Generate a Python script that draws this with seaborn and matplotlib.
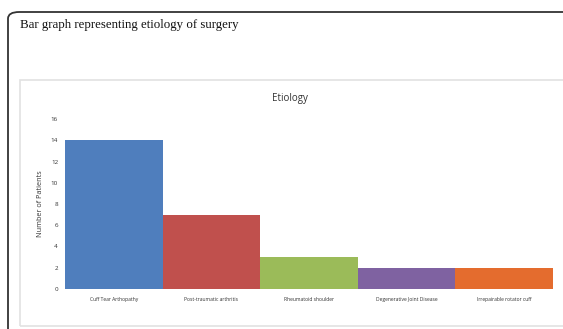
import matplotlib
matplotlib.use("Agg")
import matplotlib.pyplot as plt
from matplotlib.patches import Rectangle, FancyBboxPatch
import seaborn as sns
import pandas as pd

categories = ["Cuff Tear Arthopathy", "Post-traumatic arthritis", "Rheumatoid shoulder",
              "Degenerative Joint Disease", "Irrepairable rotator cuff"]
patients = [14, 7, 3, 2, 2]
colors = ["#4F7EBD", "#C0504D", "#9BBB59", "#7F62A1", "#E46C2E"]
yticks = [0, 2, 4, 6, 8, 10, 12, 14, 16]

sns.set_theme(style="white")
plt.rcParams['font.family'] = ['Open Sans', 'DejaVu Sans']

W, H = 563, 329
fig = plt.figure(figsize=(W / 100, H / 100), dpi=100)

def fx(px):
    return px / W

def fy(py):
    return 1 - py / H

# outer rounded panel border
outer = FancyBboxPatch((fx(8), fy(340)), fx(600), fy(12) - fy(340),
                       boxstyle="round,pad=0,rounding_size=0.02",
                       transform=fig.transFigure, fill=False,
                       edgecolor="#333333", linewidth=1.3)
fig.patches.append(outer)

# inner chart box
inner = Rectangle((fx(20), fy(326)), fx(600), fy(80) - fy(326),
                  transform=fig.transFigure, fill=False,
                  edgecolor="#e2e2e2", linewidth=1.2)
fig.patches.append(inner)

fig.text(fx(20), fy(25), "Bar graph representing etiology of surgery",
         family="Liberation Serif", fontsize=9.3, color="#111111",
         ha="left", va="center")
fig.text(fx(290), fy(98), "Etiology", fontsize=7, color="#333333",
         ha="center", va="center")

ax = fig.add_axes([fx(65), fy(289), fx(553) - fx(65), fy(119) - fy(289)])
df = pd.DataFrame({"cat": categories, "n": patients})
sns.barplot(data=df, x="cat", y="n", hue="cat", palette=colors, width=1.0,
            legend=False, ax=ax, saturation=1, linewidth=0)
ax.set_ylim(0, 16)
ax.set_xlim(-0.5, 4.5)
ax.set_yticks(yticks)
ax.set_yticklabels([str(t) for t in yticks], fontsize=4.5, color="#333333")
ax.set_xticks(range(len(categories)))
ax.set_xticklabels(categories, fontsize=3.6, color="#333333")
ax.tick_params(axis="both", length=0, pad=5)
ax.tick_params(axis="x", pad=6)
ax.set_xlabel("")
ax.set_ylabel("Number of Patients", fontsize=5.2, color="#333333", labelpad=5)
for s in ax.spines.values():
    s.set_visible(False)
ax.set_facecolor("white")
ax.grid(False)

fig.savefig("out.png", dpi=100)
